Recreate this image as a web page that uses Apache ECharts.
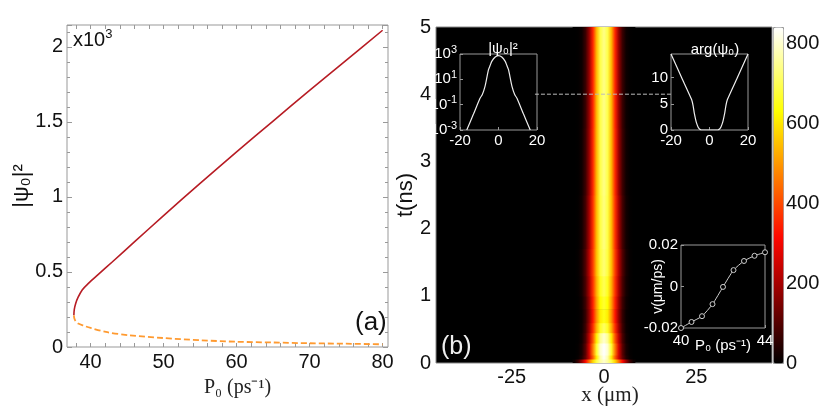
<!DOCTYPE html>
<html>
<head>
<meta charset="utf-8">
<script src="https://cdn.jsdelivr.net/npm/echarts@6/dist/echarts.min.js"></script>
<style>
  html, body { margin: 0; padding: 0; background: #fff; }
  #chart { width: 830px; height: 408px; }
</style>
</head>
<body>
<div id="chart"></div>
<script>
const SANS = 'Liberation Sans, Arial, sans-serif';
const SERIF = 'Liberation Serif, Times New Roman, serif';

// (a) bistability curve, |psi0|^2 in units of 1e3
const upperP = [37.71, 37.77, 37.96, 38.28, 38.85, 39.63, 41.1, 43, 46, 50, 55, 60, 65, 70, 75, 80];
const upperPsi = [0.211, 0.25, 0.29, 0.33, 0.38, 0.42, 0.485, 0.568, 0.70, 0.875, 1.09, 1.30, 1.505, 1.71, 1.91, 2.11];
const lowerP = [37.71, 37.78, 37.95, 38.3, 39, 40, 42.1, 45.3, 49.9, 55.1, 60, 65, 70, 75, 80];
const lowerPsi = [0.211, 0.19, 0.172, 0.157, 0.143, 0.127, 0.10, 0.078, 0.06, 0.045, 0.035, 0.03, 0.025, 0.022, 0.018];
const leftXLabels = [40, 50, 60, 70, 80];
const leftXTicks = [38, 40, 42, 44, 46, 48, 50, 52, 54, 56, 58, 60, 62, 64, 66, 68, 70, 72, 74, 76, 78, 80];

// (b) intensity map: bands in t (ns), half profiles at x = 0..8 um
const heatX = [0, 1, 2, 3, 4, 5, 6, 7, 8];
const bandStart = [0, 0.06, 0.12, 0.3, 0.45, 0.6, 0.8, 1.0, 1.3, 1.7, 2.5, 3.5];
const bandEnd = [0.06, 0.12, 0.3, 0.45, 0.6, 0.8, 1.0, 1.3, 1.7, 2.5, 3.5, 5];
const heatRows = [
  [800, 760, 690, 580, 450, 310, 180, 70, 15],
  [830, 770, 610, 420, 250, 120, 40, 8, 0],
  [840, 800, 670, 460, 260, 110, 30, 5, 0],
  [800, 750, 610, 410, 230, 90, 20, 3, 0],
  [710, 660, 530, 360, 195, 75, 15, 2, 0],
  [650, 610, 490, 330, 175, 65, 12, 2, 0],
  [670, 630, 510, 345, 185, 75, 18, 3, 0],
  [700, 655, 530, 365, 205, 90, 25, 5, 0],
  [725, 680, 550, 380, 220, 100, 30, 6, 0],
  [735, 685, 545, 365, 200, 85, 22, 4, 0],
  [740, 690, 540, 355, 185, 75, 17, 3, 0],
  [740, 690, 540, 350, 180, 70, 15, 3, 0]
];
const heatMax = 840;
const heatXLabels = [-25, 0, 25];
const hotColors = ['#000000', '#570000', '#af0000', '#ff0700', '#ff5a00', '#ffac00', '#ffff00', '#ffff80', '#ffffff'];
const guideX = [-18.7, 18.2];
const guideT = [4, 4];

// insets
const profX = [-16.5, -13, -9.6, -8.4, -7, -6, -5.2, -4.3, -3.5, -1.7, 0, 1.7, 3.5, 4.3, 5.2, 6, 7, 8.4, 9.6, 13, 16.5];
const profPsi2 = [0.001, 0.018, 0.32, 0.63, 2.8, 15, 58, 130, 260, 575, 740, 575, 260, 130, 58, 15, 2.8, 0.63, 0.32, 0.018, 0.001];
const phaseX = [-20, -14.5, -9.3, -8.5, -7.9, -7.2, -6.7, -6, -5.5, -4.8, -4.3, 0, 4.3, 4.8, 5.5, 6, 6.7, 7.2, 7.9, 8.5, 9.3, 14.5, 20];
const phaseArg = [14.5, 10, 5.8, 4.6, 3.2, 2.0, 1.3, 0.6, 0.3, 0.08, 0, 0, 0, 0.08, 0.3, 0.6, 1.3, 2.0, 3.2, 4.6, 5.8, 10, 14.5];
const velP = [40, 40.5, 41, 41.5, 42, 42.5, 43, 43.5, 44];
const velV = [-0.02, -0.0171, -0.0143, -0.0085, -0.0002, 0.0079, 0.0123, 0.0148, 0.0165];

const zip = (a, b) => a.map((v, i) => [v, b[i]]);

// one item per time band; the transverse profile is mirrored about x = 0
const heatData = bandStart.map((t0, i) => [t0, bandEnd[i], i]);

function renderBand(params, api) {
  const row = heatRows[api.value(2)];
  const xs = heatX.slice(1).reverse().map(x => -x).concat(heatX);
  const vs = row.slice(1).reverse().concat(row);
  const half = heatX[heatX.length - 1] + 0.5;
  const tl = api.coord([-half, api.value(1)]);
  const br = api.coord([half, api.value(0)]);
  const stops = xs.map((x, k) => ({
    offset: (x + half) / (2 * half),
    color: echarts.color.lerp(vs[k] / heatMax, hotColors)
  }));
  return {
    type: 'rect',
    shape: { x: tl[0], y: tl[1], width: br[0] - tl[0], height: br[1] - tl[1] + 0.6 },
    style: { fill: new echarts.graphic.LinearGradient(0, 0, 1, 0, stops) }
  };
}

const frame = '#999';
const insetLabel = { color: '#fff', fontSize: 15, fontFamily: SANS, margin: 3 };
const insetTick = { inside: true, length: 3, lineStyle: { color: frame } };
const none = { show: false };
const noLine = { show: false, onZero: false };

const expLabel = v => '{b|10}{e|' + Math.round(Math.log10(v)) + '}';

const option = {
  animation: false,
  backgroundColor: '#fff',
  title: [
    { text: '|ψ₀|²', left: 498, top: 36, textAlign: 'center',
      textStyle: { color: '#fff', fontSize: 15, fontWeight: 'normal', fontFamily: SANS } },
    { text: 'arg(ψ₀)', left: 710, top: 37, textAlign: 'center',
      textStyle: { color: '#fff', fontSize: 15, fontWeight: 'normal', fontFamily: SANS } }
  ],
  grid: [
    { left: 67, top: 25, width: 321, height: 322, show: true, borderColor: frame, borderWidth: 1, outerBoundsMode: 'none' },
    { left: 436, top: 27, width: 336, height: 336, show: true, backgroundColor: '#000', borderColor: '#888', borderWidth: 1, outerBoundsMode: 'none' },
    { left: 460, top: 54, width: 77, height: 76, show: true, backgroundColor: '#000', borderColor: frame, borderWidth: 1, outerBoundsMode: 'none' },
    { left: 671, top: 54, width: 77, height: 76, show: true, backgroundColor: '#000', borderColor: frame, borderWidth: 1, outerBoundsMode: 'none' },
    { left: 681, top: 245, width: 84, height: 83, show: true, backgroundColor: '#000', borderColor: frame, borderWidth: 1, outerBoundsMode: 'none' },
    { left: 773, top: 27, width: 10, height: 336, outerBoundsMode: 'none' }
  ],
  xAxis: [
    { gridIndex: 0, type: 'value', min: 36.77, max: 80.74,
      axisLine: noLine, splitLine: none,
      axisTick: { inside: true, length: 4, customValues: leftXTicks, lineStyle: { color: frame } },
      axisLabel: { customValues: leftXLabels, fontSize: 20, color: '#111', fontFamily: SANS, margin: 5 },
      name: 'P₀ (ps⁻¹)', nameLocation: 'middle', nameGap: 31, nameMoveOverlap: false,
      nameTextStyle: { fontFamily: SERIF, fontSize: 20, color: '#222', padding: [0, 0, 0, 20] } },
    { gridIndex: 0, type: 'value', position: 'top', min: 36.77, max: 80.74,
      axisLine: noLine, splitLine: none, axisLabel: none,
      axisTick: { inside: true, length: 4, customValues: leftXTicks, lineStyle: { color: frame } } },
    { gridIndex: 1, type: 'value', min: -45.5, max: 45.5,
      axisLine: noLine, splitLine: none, axisTick: none,
      axisLabel: { customValues: heatXLabels, fontSize: 20, color: '#111', fontFamily: SANS, margin: 4 },
      name: 'x (μm)', nameLocation: 'middle', nameGap: 22, nameMoveOverlap: false,
      nameTextStyle: { fontFamily: SERIF, fontSize: 21, color: '#222', padding: [0, 0, 0, 12] } },
    { gridIndex: 2, type: 'value', min: -20, max: 20, interval: 20,
      axisLine: noLine, splitLine: none, axisTick: insetTick, axisLabel: insetLabel },
    { gridIndex: 3, type: 'value', min: -20, max: 20, interval: 20,
      axisLine: noLine, splitLine: none, axisTick: insetTick, axisLabel: insetLabel },
    { gridIndex: 4, type: 'value', min: 40, max: 44, interval: 4,
      axisLine: noLine, splitLine: none, axisTick: insetTick,
      axisLabel: { color: '#fff', fontSize: 15, fontFamily: SANS, margin: 5 },
      name: 'P₀ (ps⁻¹)', nameLocation: 'middle', nameGap: 10, nameMoveOverlap: false,
      nameTextStyle: { color: '#fff', fontSize: 15, fontFamily: SANS } },
    { gridIndex: 5, type: 'value', show: false, min: 0, max: 1 }
  ],
  yAxis: [
    { gridIndex: 0, type: 'value', min: 0, max: 2.145, interval: 0.5,
      axisLine: noLine, splitLine: none,
      axisTick: { inside: true, length: 5, lineStyle: { color: frame } },
      minorTick: { show: true, splitNumber: 5, length: 3, lineStyle: { color: frame } },
      axisLabel: { fontSize: 20, color: '#111', fontFamily: SANS, margin: 4, showMaxLabel: false },
      name: '|ψ₀|²', nameLocation: 'middle', nameGap: 34, nameMoveOverlap: false,
      nameTextStyle: { fontSize: 22, color: '#111', fontFamily: SANS } },
    { gridIndex: 0, type: 'value', position: 'right', min: 0, max: 2.145, interval: 0.5,
      axisLine: noLine, splitLine: none, axisLabel: none,
      axisTick: { inside: true, length: 5, lineStyle: { color: frame } },
      minorTick: { show: true, splitNumber: 5, length: 3, lineStyle: { color: frame } } },
    { gridIndex: 1, type: 'value', min: 0, max: 5, interval: 1,
      axisLine: noLine, splitLine: none, axisTick: none,
      axisLabel: { fontSize: 20, color: '#111', fontFamily: SANS, margin: 5, padding: [5, 0, 0, 0],
        verticalAlignMaxLabel: 'middle', verticalAlignMinLabel: 'middle' },
      name: 't(ns)', nameLocation: 'middle', nameGap: 19, nameMoveOverlap: false,
      nameTextStyle: { fontSize: 22, color: '#111', fontFamily: SANS } },
    { gridIndex: 2, type: 'log', logBase: 10, min: 0.001, max: 1000, interval: 2,
      axisLine: noLine, splitLine: none, axisTick: insetTick,
      axisLabel: { formatter: expLabel, margin: 3,
        rich: { b: { color: '#fff', fontSize: 15, fontFamily: SANS, lineHeight: 20 },
                e: { color: '#fff', fontSize: 11, fontFamily: SANS, lineHeight: 8, verticalAlign: 'top' } } } },
    { gridIndex: 3, type: 'value', min: 0, max: 14.5, interval: 5,
      axisLine: noLine, splitLine: none, axisTick: insetTick,
      axisLabel: Object.assign({ showMaxLabel: false }, insetLabel) },
    { gridIndex: 4, type: 'value', min: -0.02, max: 0.02, interval: 0.02,
      axisLine: noLine, splitLine: none, axisTick: insetTick, axisLabel: insetLabel,
      name: 'v(μm/ps)', nameLocation: 'middle', nameGap: 16, nameMoveOverlap: false,
      nameTextStyle: { color: '#fff', fontSize: 14, fontFamily: SANS } },
    { gridIndex: 5, type: 'value', position: 'right', min: 0, max: heatMax, interval: 200,
      axisLine: noLine, splitLine: none,
      axisTick: { inside: true, length: 2, lineStyle: { color: '#777' } },
      axisLabel: { fontSize: 20, color: '#111', fontFamily: SANS, margin: 3, showMaxLabel: false, padding: [3, 0, 0, 0] } }
  ],
  visualMap: {
    type: 'continuous', min: 0, max: heatMax, seriesIndex: 2, dimension: 2,
    orient: 'vertical', left: 773, top: 27, itemWidth: 10, itemHeight: 336,
    padding: 0, text: null, calculable: false, showLabel: false,
    borderColor: '#999', borderWidth: 1,
    inRange: { color: hotColors }
  },
  graphic: [
    { type: 'text', left: 73, top: 28, z: 10,
      style: { text: '{a|x10}{b|3}',
        rich: { a: { fontSize: 20, fontFamily: SANS, fill: '#111', lineHeight: 24 },
                b: { fontSize: 13, fontFamily: SANS, fill: '#111', lineHeight: 8, verticalAlign: 'top' } } } },
    { type: 'text', left: 355, top: 310, z: 10,
      style: { text: '(a)', fontSize: 26, fontFamily: SANS, fill: '#111' } },
    { type: 'text', left: 441, top: 335, z: 10,
      style: { text: '(b)', fontSize: 25, fontFamily: SANS, fill: '#eee' } }
  ],
  series: [
    { type: 'line', xAxisIndex: 0, yAxisIndex: 0, data: zip(upperP, upperPsi), smooth: 0.3,
      showSymbol: false, lineStyle: { color: '#b71c24', width: 1.6 } },
    { type: 'line', xAxisIndex: 0, yAxisIndex: 0, data: zip(lowerP, lowerPsi), smooth: 0.3,
      showSymbol: false, lineStyle: { color: '#ff9a30', width: 1.8, type: [6, 3] } },
    { type: 'custom', xAxisIndex: 2, yAxisIndex: 2, data: heatData, renderItem: renderBand,
      encode: { y: [0, 1] }, clip: true },
    { type: 'line', xAxisIndex: 2, yAxisIndex: 2, data: zip(guideX, guideT), showSymbol: false,
      lineStyle: { color: '#bbb', width: 1, type: [4, 2] }, z: 3 },
    { type: 'line', xAxisIndex: 3, yAxisIndex: 3, data: zip(profX, profPsi2), smooth: 0.2,
      showSymbol: false, lineStyle: { color: '#eee', width: 1.2 } },
    { type: 'line', xAxisIndex: 4, yAxisIndex: 4, data: zip(phaseX, phaseArg), smooth: 0.2,
      showSymbol: false, lineStyle: { color: '#eee', width: 1.2 } },
    { type: 'line', xAxisIndex: 5, yAxisIndex: 5, data: zip(velP, velV), smooth: 0.2,
      symbol: 'circle', symbolSize: 5,
      itemStyle: { color: '#000', borderColor: '#ccc', borderWidth: 1 },
      lineStyle: { color: '#ccc', width: 1 } }
  ]
};

const chart = echarts.init(document.getElementById('chart'), null, { renderer: 'canvas' });
chart.setOption(option);
</script>
</body>
</html>
